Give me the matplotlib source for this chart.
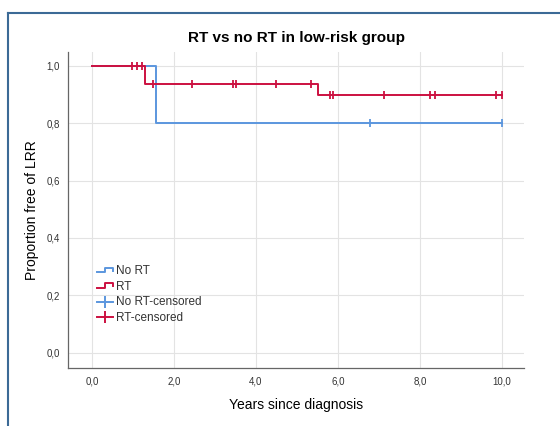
import numpy as np
import matplotlib.pyplot as plt
from matplotlib.lines import Line2D
from matplotlib.legend_handler import HandlerBase

plt.rcParams["font.family"] = ["Liberation Sans", "DejaVu Sans"]

# survival curves (step points) and censoring times
no_rt_t = [0.0, 1.55, 10.0]
no_rt_s = [1.0, 0.8, 0.8]
no_rt_cens_t = [6.79, 10.0]
no_rt_cens_s = [0.8, 0.8]

rt_t = [0.0, 1.29, 5.51, 10.0]
rt_s = [1.0, 0.9375, 0.90, 0.90]
rt_cens_t = [0.98, 1.10, 1.22, 1.49, 2.45, 3.43, 3.51, 4.49, 5.33,
             5.81, 5.88, 7.12, 8.24, 8.37, 9.86, 10.0]
rt_cens_s = [1.0, 1.0, 1.0, 0.9375, 0.9375, 0.9375, 0.9375, 0.9375, 0.9375,
             0.90, 0.90, 0.90, 0.90, 0.90, 0.90, 0.90]

xticks = [0, 2, 4, 6, 8, 10]
yticks = [0.0, 0.2, 0.4, 0.6, 0.8, 1.0]

BLUE = "#5b96de"
RED = "#cc1040"


class StepHandler(HandlerBase):
    # small step shape for the curve entries
    def create_artists(self, legend, orig, xd, yd, w, h, fontsize, trans):
        x0, y0 = -xd, -yd
        xs = [x0, x0 + w * 0.45, x0 + w * 0.45, x0 + w * 0.9, x0 + w * 0.9]
        ys = [y0 + h * 0.2, y0 + h * 0.2, y0 + h * 0.75, y0 + h * 0.75, y0 + h * 0.4]
        return [Line2D(xs, ys, color=orig.get_color(), lw=1.4, transform=trans)]


class CensorHandler(HandlerBase):
    def create_artists(self, legend, orig, xd, yd, w, h, fontsize, trans):
        yc = -yd + h * 0.4
        ln = Line2D([-xd, -xd + w * 0.9], [yc, yc], color=orig.get_color(), lw=1.4, transform=trans)
        mk = Line2D([-xd + w * 0.45], [yc], color=orig.get_color(), marker="|",
                    markersize=9, markeredgewidth=1.4, linestyle="none", transform=trans)
        return [ln, mk]


fig = plt.figure(figsize=(5.6, 4.26), dpi=100)
ax = fig.add_axes([0.1214, 0.135, 0.8146, 0.744])

l1, = ax.step(no_rt_t, no_rt_s, where="post", color=BLUE, lw=1.4)
l2, = ax.step(rt_t, rt_s, where="post", color=RED, lw=1.4)
ax.plot(no_rt_cens_t, no_rt_cens_s, "|", color=BLUE, markersize=5.5, markeredgewidth=1.3)
ax.plot(rt_cens_t, rt_cens_s, "|", color=RED, markersize=5.5, markeredgewidth=1.3)

ax.set_xlim(-0.585, 10.54)
ax.set_ylim(-0.055, 1.05)
ax.set_xticks(xticks)
ax.set_yticks(yticks)
ax.set_xticklabels([f"{v:.1f}".replace(".", ",") for v in xticks], fontsize=7, color="#333333")
ax.set_yticklabels([f"{v:.1f}".replace(".", ",") for v in yticks], fontsize=7, color="#333333")
ax.tick_params(length=0, pad=6)
ax.grid(True, color="#e3e3e3", lw=0.8)
ax.set_axisbelow(True)
for s in ["top", "right"]:
    ax.spines[s].set_visible(False)
for s in ["left", "bottom"]:
    ax.spines[s].set_color("#666666")
    ax.spines[s].set_linewidth(0.9)

ax.set_title("RT vs no RT in low-risk group", fontsize=11, fontweight="bold", pad=7)
ax.set_xlabel("Years since diagnosis", fontsize=10, labelpad=8)
ax.set_ylabel("Proportion free of LRR", fontsize=10, labelpad=5)

leg_c1 = Line2D([], [], color=BLUE)
leg_c2 = Line2D([], [], color=RED)
ax.legend([l1, l2, leg_c1, leg_c2], ["No RT", "RT", "No RT-censored", "RT-censored"],
          handler_map={l1: StepHandler(), l2: StepHandler(),
                       leg_c1: CensorHandler(), leg_c2: CensorHandler()},
          loc="lower left", bbox_to_anchor=(0.045, 0.115), frameon=False, fontsize=8.5,
          handlelength=1.5, handletextpad=0.1, labelspacing=0.3, borderpad=0.2,
          labelcolor="#333333")

# outer panel border
fig.add_artist(Line2D([8 / 560, 1.0], [1 - 13 / 426, 1 - 13 / 426], transform=fig.transFigure,
                      color="#3c6a96", lw=1.5))
fig.add_artist(Line2D([8 / 560, 8 / 560], [0.0, 1 - 13 / 426], transform=fig.transFigure,
                      color="#3c6a96", lw=1.5))

fig.savefig("out.png", dpi=100)
